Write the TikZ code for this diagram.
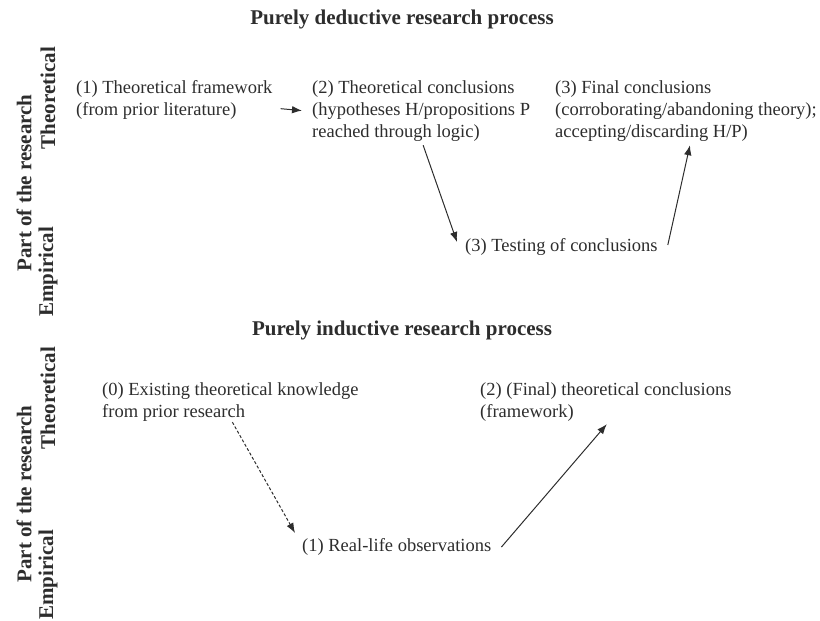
\documentclass[tikz,border=0pt]{standalone}
\usepackage{fontspec}
\setmainfont{Liberation Serif}
\usepackage{xcolor}
\usepackage{tikz}
\usetikzlibrary{arrows.meta,positioning,calc}
\definecolor{inktext}{RGB}{45, 45, 45}

\begin{document}
\begin{tikzpicture}[x=1pt, y=-1pt, >={Latex[length=10pt,width=7.5pt]},
    txt/.style={font=\fontsize{18.5}{22}\selectfont, text=inktext, inner sep=0pt, align=left},
    ttl/.style={font=\fontsize{21}{24}\selectfont\bfseries, text=inktext, inner sep=0pt},
    side/.style={ttl, rotate=90},
    flow/.style={->, line width=1pt, draw=inktext}]
        \useasboundingbox (0,0) rectangle (820,621);

        % Deductive process
        \node[ttl] (dedtitle) at (402, 19) {Purely deductive research process};
        \node[side] (dedpart) at (24, 183) {Part of the research};
        \node[side] (dedtheo) at (48, 98) {Theoretical};
        \node[side] (dedemp) at (48, 272) {Empirical};

        \node[txt, anchor=north west] (frame) at (76, 80) {(1) Theoretical framework\\(from prior literature)};
        \node[txt, anchor=north west] (concl) at (312, 80) {(2) Theoretical conclusions\\(hypotheses H/propositions P\\reached through logic)};
        \node[txt, anchor=north west] (final) at (555, 80) {(3) Final conclusions\\(corroborating/abandoning theory);\\accepting/discarding H/P)};
        \node[txt, anchor=west] (testing) at (465, 247) {(3) Testing of conclusions};

        \draw[flow] ($(frame.east)+(8,9)$) -- ($(concl.west)+(-10,0)$);
        \draw[flow] ($(concl.south)+(2,4)$) -- ($(testing.west)+(-8,-5)$);
        \draw[flow] ($(testing.east)+(10,-2)$) -- ($(final.south)+(4,4)$);

        % Inductive process
        \node[ttl] (indtitle) at (402, 330) {Purely inductive research process};
        \node[side] (indpart) at (24, 494) {Part of the research};
        \node[side] (indtheo) at (48, 398) {Theoretical};
        \node[side] (indemp) at (48, 575) {Empirical};

        \node[txt, anchor=north west] (existing) at (102, 382) {(0) Existing theoretical knowledge\\from prior research};
        \node[txt, anchor=north west] (theory) at (480, 382) {(2) (Final) theoretical conclusions\\(framework)};
        \node[txt, anchor=west] (observ) at (302, 547) {(1) Real-life observations};

        \draw[flow, dash pattern=on 3pt off 2pt] ($(existing.south)+(2,1)$) -- ($(observ.west)+(-7,-14)$);
        \draw[flow] ($(observ.east)+(10,0)$) -- ($(theory.south)+(1,3)$);
    \end{tikzpicture}
\end{document}
